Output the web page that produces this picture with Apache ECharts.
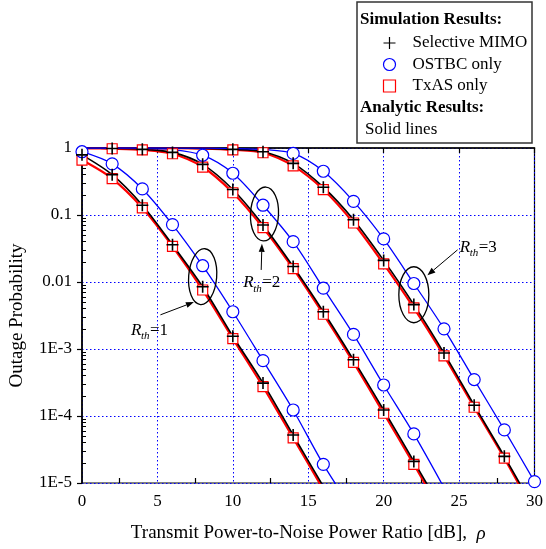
<!DOCTYPE html>
<html><head><meta charset="utf-8">
<script src="https://cdn.jsdelivr.net/npm/echarts@6/dist/echarts.min.js"></script>
<style>html,body{margin:0;padding:0;background:#fff}#c{width:546px;height:549px}</style>
</head><body><div id="c"></div>
<script>
// ---------------- data ----------------
const xR1 = [0, 2, 4, 6, 8, 10, 12, 14, 16, 18];
const selR1 = [0.79, 0.40, 0.14, 0.036, 0.0085, 0.00155, 3.1e-4, 5.2e-5, 8.9e-6];
const txR1  = [0.66, 0.35, 0.128, 0.034, 0.0076, 0.00143, 2.75e-4, 4.7e-5, 8.0e-6];
const ostR1 = [0.88, 0.58, 0.245, 0.072, 0.0175, 0.0036, 6.7e-4, 1.23e-4, 1.9e-5, 3.8e-6];

const xR2 = [0, 2, 4, 6, 8, 10, 12, 14, 16, 18, 20, 22, 24];
const selR2 = [0.995, 0.985, 0.955, 0.86, 0.57, 0.24, 0.071, 0.017, 0.0036, 6.9e-4, 1.23e-4, 2.1e-5, 3.5e-6];
const txR2  = [0.99, 0.975, 0.94, 0.82, 0.52, 0.215, 0.065, 0.0158, 0.0033, 6.3e-4, 1.1e-4, 1.9e-5, 3.1e-6];
const ostR2 = [0.999, 0.997, 0.985, 0.95, 0.78, 0.42, 0.14, 0.04, 0.0081, 0.00165, 2.9e-4, 5.4e-5, 8.5e-6];

const xR3 = [0, 2, 4, 6, 8, 10, 12, 14, 16, 18, 20, 22, 24, 26, 28, 30];
const selR3 = [0.9999, 0.9995, 0.998, 0.995, 0.985, 0.955, 0.88, 0.59, 0.26, 0.085, 0.021, 0.0046, 8.7e-4, 1.45e-4, 2.5e-5, 4.0e-6];
const txR3  = [0.9999, 0.999, 0.997, 0.993, 0.98, 0.94, 0.85, 0.54, 0.24, 0.076, 0.0186, 0.0041, 7.9e-4, 1.35e-4, 2.35e-5, 3.6e-6];
const ostR3 = [0.9999, 0.9999, 0.9995, 0.999, 0.996, 0.985, 0.95, 0.83, 0.45, 0.16, 0.044, 0.0095, 0.002, 3.5e-4, 6.2e-5, 1.05e-5];

// first x (dB) at which a simulation marker is shown, per group [selective, ostbc, txas]
const simStartR1 = [0, 0, 0];
const simStartR2 = [2, 8, 2];
const simStartR3 = [10, 14, 10];

const xMinorTicks = [2.5, 7.5, 12.5, 17.5, 22.5, 27.5];
const yTickLabels = { '-5': '1E-5', '-4': '1E-4', '-3': '1E-3', '-2': '0.01', '-1': '0.1', '0': '1' };
const yMinorMantissa = [2, 3, 4, 5, 6, 7, 8, 9];
const yDecades = [-5, -4, -3, -2, -1];

const seriesNames = ['Selective MIMO', 'OSTBC only', 'TxAS only'];
const rthLabels = ['1', '2', '3'];

// ---------------- build ----------------
const FONT = 'Liberation Serif';
const chart = echarts.init(document.getElementById('c'), null, { renderer: 'canvas' });
const pairs = (xs, ys, start) => ys.map((y, i) => [xs[i], y]).filter(p => start === undefined || p[0] >= start);

const groups = [
  { xs: xR1, sel: selR1, tx: txR1, ost: ostR1, st: simStartR1 },
  { xs: xR2, sel: selR2, tx: txR2, ost: ostR2, st: simStartR2 },
  { xs: xR3, sel: selR3, tx: txR3, ost: ostR3, st: simStartR3 }
];
const plusPath = 'path://M0,5L10,5M5,0L5,10';
const series = [];
groups.forEach(g => {
  series.push({ type: 'line', name: 'TxAS analytic', data: pairs(g.xs, g.tx), smooth: 0.3, showSymbol: false, z: 2,
    lineStyle: { color: '#ff0000', width: 2.2 }, itemStyle: { color: '#ff0000' }, silent: true });
  series.push({ type: 'line', name: 'Selective analytic', data: pairs(g.xs, g.sel), smooth: 0.3, showSymbol: false, z: 2,
    lineStyle: { color: '#000000', width: 1.6 }, itemStyle: { color: '#000' }, silent: true });
  series.push({ type: 'line', name: 'OSTBC analytic', data: pairs(g.xs, g.ost), smooth: 0.3, showSymbol: false, z: 2,
    lineStyle: { color: '#0000ff', width: 1.3 }, itemStyle: { color: '#0000ff' }, silent: true });
});
groups.forEach(g => {
  series.push({ type: 'scatter', name: seriesNames[2], data: pairs(g.xs, g.tx, g.st[2]), symbol: 'rect', symbolSize: 10, z: 3,
    itemStyle: { color: '#ffffff', borderColor: '#ff0000', borderWidth: 1.2, opacity: 1 } });
  series.push({ type: 'scatter', name: seriesNames[1], data: pairs(g.xs, g.ost, g.st[1]), symbol: 'circle', symbolSize: 12, z: 3,
    itemStyle: { color: '#ffffff', borderColor: '#0000ff', borderWidth: 1.2, opacity: 1 } });
});
groups.forEach(g => {
  series.push({ type: 'scatter', name: seriesNames[0], data: pairs(g.xs, g.sel, g.st[0]), symbol: plusPath, symbolSize: 12, z: 4,
    itemStyle: { color: 'none', borderColor: '#000000', borderWidth: 1.6, opacity: 1 } });
});

const yMinorTickValues = [];
yDecades.forEach(d => yMinorMantissa.forEach(m => yMinorTickValues.push(d + Math.log10(m))));

const option = {
  animation: false,
  backgroundColor: '#ffffff',
  textStyle: { fontFamily: FONT },
  grid: { left: 79, right: 10, top: 148, bottom: 66, show: true, borderColor: '#000', borderWidth: 1.2, backgroundColor: 'transparent' },
  legend: {
    data: seriesNames, orient: 'vertical', left: 381, top: 33, padding: 0, itemWidth: 12, itemHeight: 12, itemGap: 1.5,
    itemStyle: { borderWidth: 1.2 },
    textStyle: { fontFamily: FONT, fontSize: 17, color: '#000', lineHeight: 20, padding: [0, 0, 0, 12] }, selectedMode: false
  },
  xAxis: [
    { type: 'value', min: 0, max: 30, interval: 5,
      axisLine: { lineStyle: { color: '#000', width: 1.6 } },
      axisTick: { show: true, length: 5, lineStyle: { color: '#000', width: 1.2 } },
      axisLabel: { fontFamily: FONT, fontSize: 17, color: '#000', margin: 10 },
      splitLine: { show: true, lineStyle: { color: '#0000ff', type: [1.5, 2.5], width: 1 } },
      name: 'Transmit Power-to-Noise Power Ratio [dB],  {i|ρ}', nameLocation: 'middle', nameGap: 41,
      nameTextStyle: { fontFamily: FONT, fontSize: 19, color: '#000', rich: { i: { fontFamily: FONT, fontStyle: 'italic', fontSize: 19, color: '#000' } } } },
    { type: 'value', min: 0, max: 30, position: 'bottom', gridIndex: 0,
      axisLine: { show: false }, axisLabel: { show: false }, splitLine: { show: false },
      axisTick: { show: true, inside: true, length: 5, customValues: xMinorTicks, lineStyle: { color: '#000', width: 1.2 } } }
  ],
  yAxis: [
    { type: 'log', logBase: 10, min: 1e-5, max: 1,
      axisLine: { lineStyle: { color: '#000', width: 1.6 } },
      axisTick: { show: true, length: 5, lineStyle: { color: '#000', width: 1.2 } },
      axisLabel: { fontFamily: FONT, fontSize: 17, color: '#000', margin: 10,
        formatter: v => yTickLabels[String(Math.round(Math.log10(v)))] },
      splitLine: { show: true, lineStyle: { color: '#0000ff', type: [1.5, 2.5], width: 1 } },
      name: 'Outage Probability', nameLocation: 'middle', nameGap: 55,
      nameTextStyle: { fontFamily: FONT, fontSize: 19, color: '#000' } },
    { type: 'value', min: -5, max: 0, position: 'left', gridIndex: 0,
      axisLine: { show: false }, axisLabel: { show: false }, splitLine: { show: false },
      axisTick: { show: true, inside: true, length: 4, customValues: yMinorTickValues, lineStyle: { color: '#000', width: 1 } } }
  ],
  series: series
};
chart.setOption(option);

// ---------------- annotations & legend box ----------------
const ann = [
  { label: rthLabels[0], ell: [8.0, -1.92], rx: 14, ry: 28, rot: -0.08, txt: [4.5, -2.72], arrow: [[5.2, -2.49], [7.42, -2.30]] },
  { label: rthLabels[1], ell: [12.1, -0.985], rx: 14, ry: 27, rot: -0.05, txt: [11.95, -2.01], arrow: [[11.88, -1.82], [11.93, -1.43]] },
  { label: rthLabels[2], ell: [22.0, -2.19], rx: 15, ry: 28, rot: 0, txt: [26.3, -1.48], arrow: [[24.9, -1.52], [22.9, -1.90]] }
];
const toPx = (x, lg) => chart.convertToPixel({ xAxisIndex: 0, yAxisIndex: 0 }, [x, Math.pow(10, lg)]);
const graphics = [];
ann.forEach(a => {
  const c = toPx(a.ell[0], a.ell[1]);
  graphics.push({ type: 'ellipse', shape: { cx: 0, cy: 0, rx: a.rx, ry: a.ry }, x: c[0], y: c[1], rotation: a.rot,
    style: { fill: 'none', stroke: '#000', lineWidth: 1.3 }, z: 10 });
  const p1 = toPx(a.arrow[0][0], a.arrow[0][1]);
  const p2 = toPx(a.arrow[1][0], a.arrow[1][1]);
  const dx = p2[0] - p1[0], dy = p2[1] - p1[1];
  const L = Math.hypot(dx, dy), ux = dx / L, uy = dy / L;
  const hl = 8, hw = 3;
  const bx = p2[0] - ux * hl, by = p2[1] - uy * hl;
  graphics.push({ type: 'line', shape: { x1: p1[0], y1: p1[1], x2: bx, y2: by }, style: { stroke: '#000', lineWidth: 1 }, z: 10 });
  graphics.push({ type: 'polygon', shape: { points: [[p2[0], p2[1]], [bx - uy * hw, by + ux * hw], [bx + uy * hw, by - ux * hw]] },
    style: { fill: '#000' }, z: 10 });
  const t = toPx(a.txt[0], a.txt[1]);
  const left = t[0] - 19;
  graphics.push({ type: 'text', x: left, y: t[1], style: { text: 'R', font: 'italic 17px "Liberation Serif"', fill: '#000', verticalAlign: 'middle' }, z: 10 });
  graphics.push({ type: 'text', x: left + 10, y: t[1] + 6, style: { text: 'th', font: 'italic 11px "Liberation Serif"', fill: '#000', verticalAlign: 'middle' }, z: 10 });
  graphics.push({ type: 'text', x: left + 19, y: t[1], style: { text: '=' + a.label, font: '17px "Liberation Serif"', fill: '#000', verticalAlign: 'middle' }, z: 10 });
});
// legend box
graphics.push({ type: 'rect', shape: { x: 357, y: 2, width: 175, height: 141 }, style: { fill: '#fff', stroke: '#333', lineWidth: 1.5 }, z: 0 });
graphics.push({ type: 'text', x: 360, y: 20, style: { text: 'Simulation Results:', font: 'bold 17px "Liberation Serif"', fill: '#000', verticalAlign: 'middle' }, z: 11 });
graphics.push({ type: 'text', x: 360, y: 108, style: { text: 'Analytic Results:', font: 'bold 17px "Liberation Serif"', fill: '#000', verticalAlign: 'middle' }, z: 11 });
graphics.push({ type: 'text', x: 365, y: 130, style: { text: 'Solid lines', font: '17px "Liberation Serif"', fill: '#000', verticalAlign: 'middle' }, z: 11 });
chart.setOption({ graphic: graphics });
</script>
</body></html>
